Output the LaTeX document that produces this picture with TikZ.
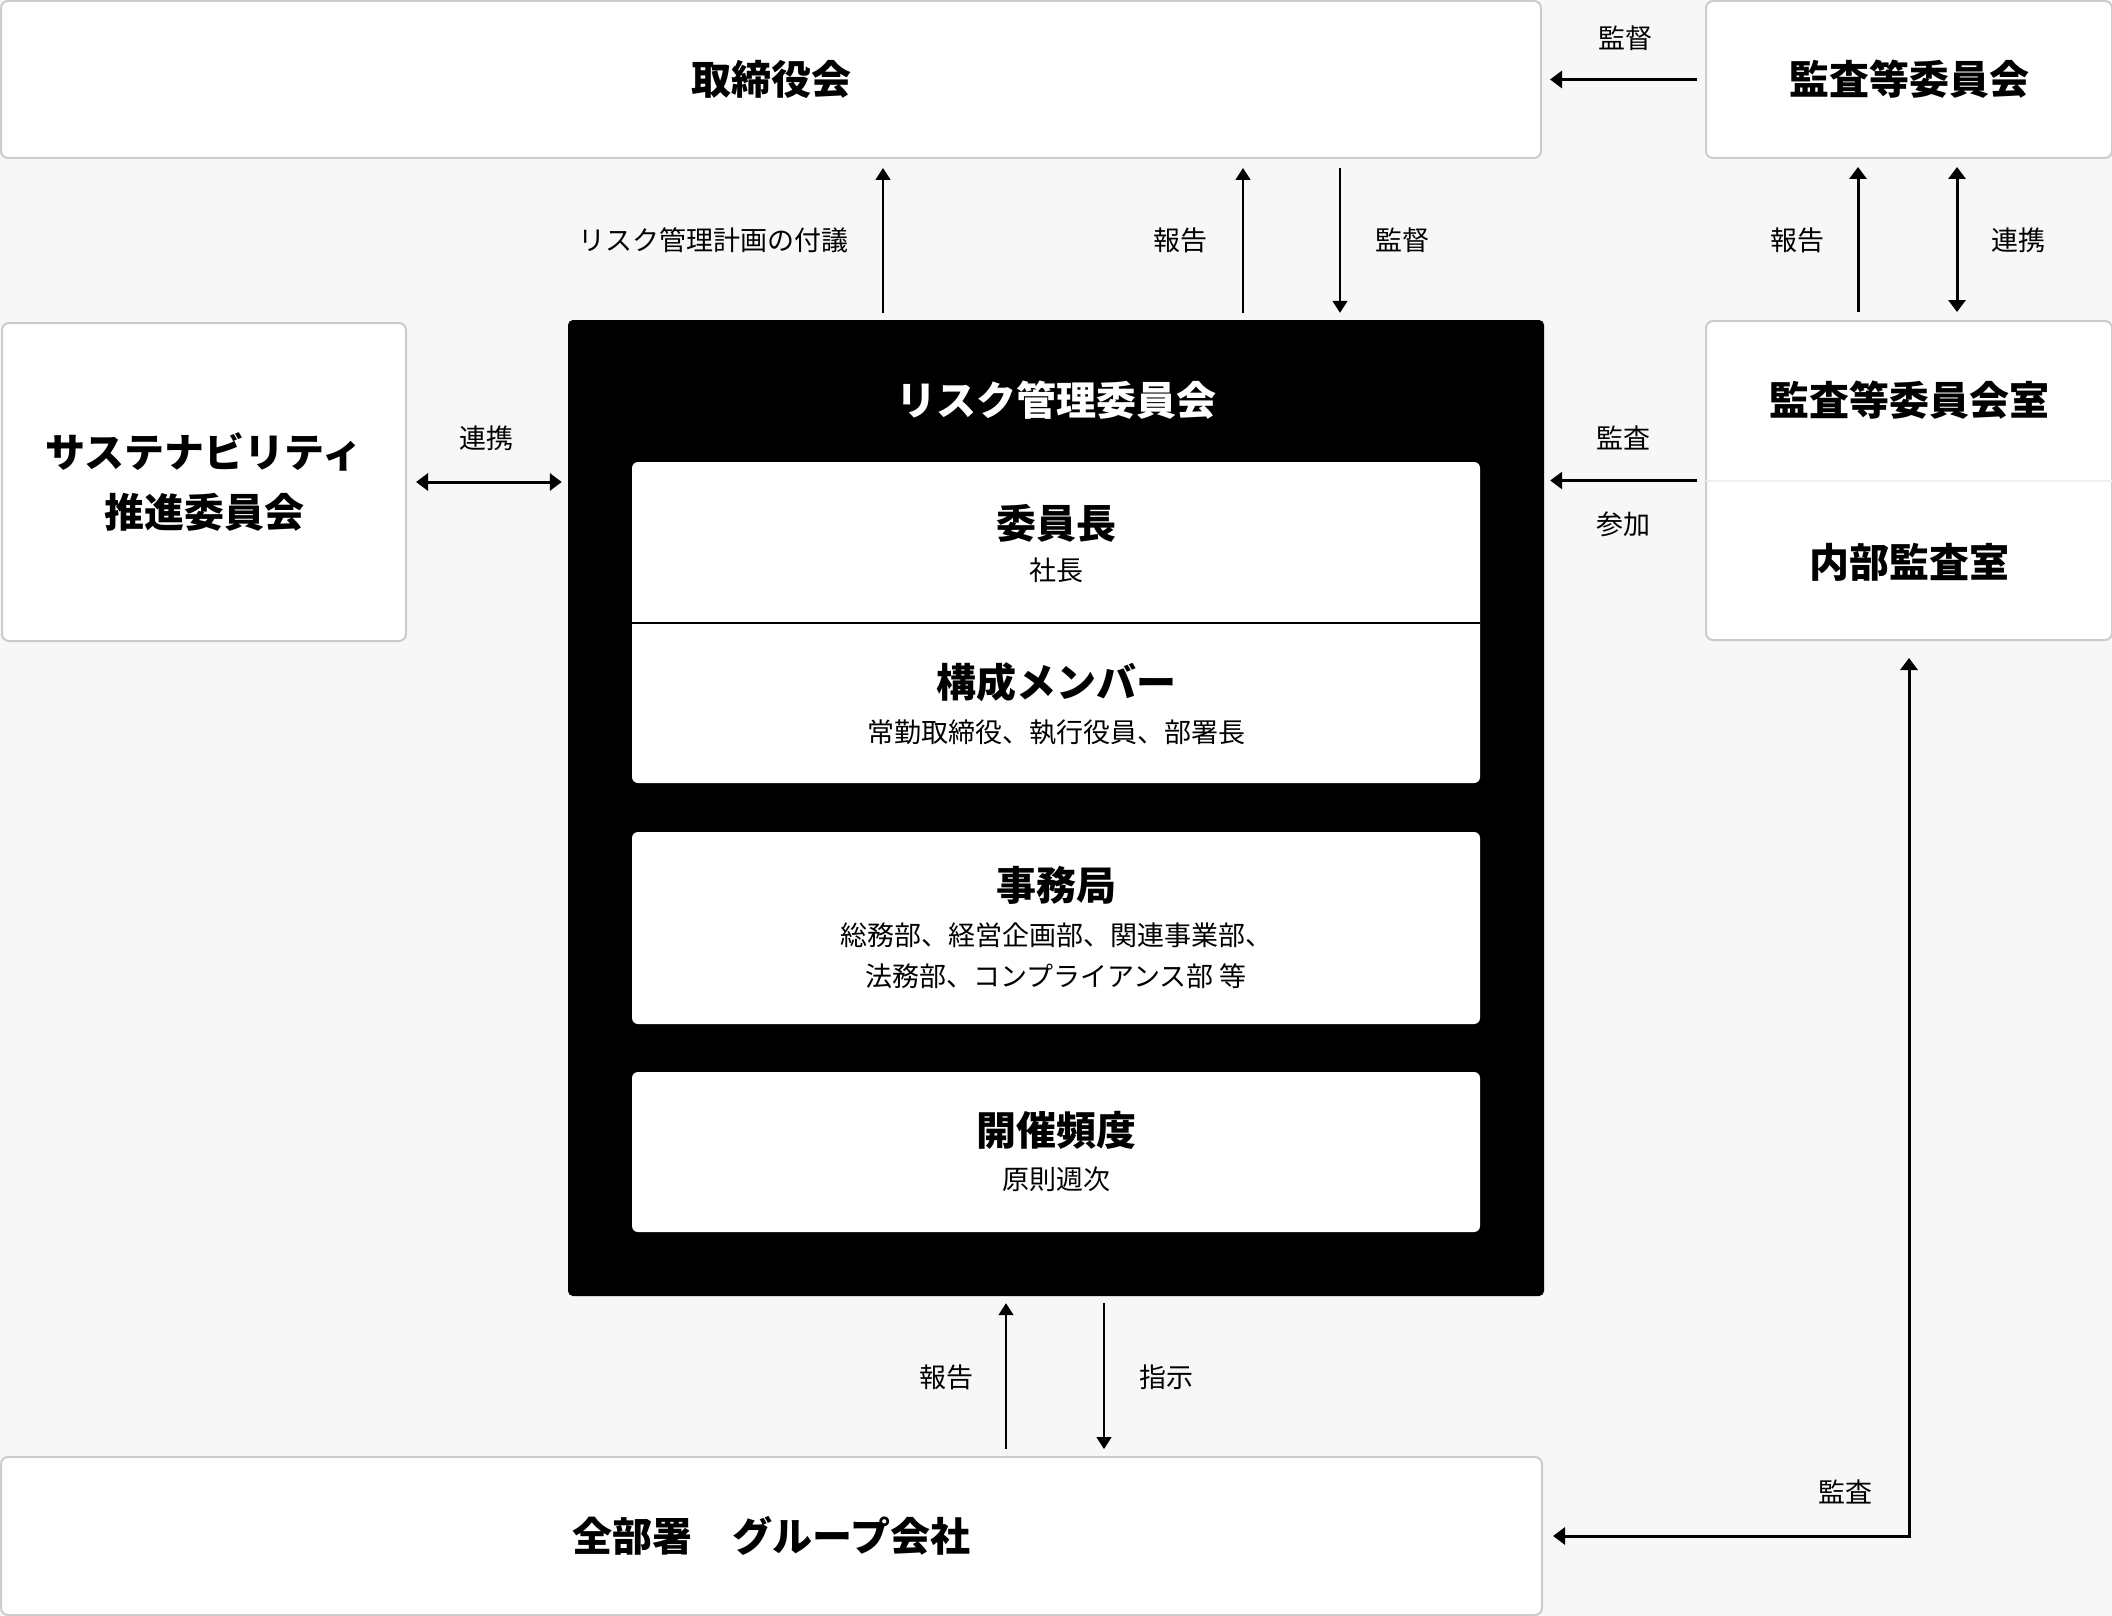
\documentclass[tikz,border=0pt]{standalone}
\usepackage{fontspec}
\setmainfont{Noto Sans CJK JP}
\usetikzlibrary{arrows.meta,calc}
\definecolor{bgc}{HTML}{F8F7F7}
\definecolor{bordc}{HTML}{CCCCCC}
\definecolor{divc}{HTML}{F0F0F0}
\tikzset{
  wbox/.style={draw=bordc, line width=2pt, fill=white, rounded corners=7pt, inner sep=0pt},
  ibox/.style={fill=white, rounded corners=6pt, inner sep=0pt, minimum width=848pt},
  head/.style={font=\fontsize{40}{60}\selectfont\bfseries, align=center, inner sep=0pt},
  sub/.style={font=\fontsize{27}{41}\selectfont, align=center, inner sep=0pt},
  lab/.style={font=\fontsize{27}{32}\selectfont, inner sep=0pt},
  thinarr/.style={line width=1.6pt, -{Triangle[length=12pt,width=15pt]}},
  thickarr/.style={line width=3pt, -{Triangle[length=12pt,width=17pt]}},
  thickboth/.style={line width=3pt, {Triangle[length=12pt,width=17pt]}-{Triangle[length=12pt,width=17pt]}},
}
\begin{document}
\begin{tikzpicture}[x=1pt,y=-1pt]
\useasboundingbox (0,0) rectangle (2112,1616);
\fill[bgc] (0,0) rectangle (2112,1616);

% boxes
\node[wbox, minimum width=1540pt, minimum height=157pt] (board) at (771,79.5) {};
\node[head] at (board.center) {取締役会};
\node[wbox, minimum width=406pt, minimum height=157pt] (ac) at (1909,79.5) {};
\node[head] at (ac.center) {監査等委員会};
\node[wbox, minimum width=404pt, minimum height=318pt] (sus) at (204,482) {};
\node[head] at (sus.center) {サステナビリティ\\推進委員会};
\node[wbox, minimum width=406pt, minimum height=319pt] (acr) at (1909,480.5) {};
\draw[divc, line width=2pt] ([xshift=1pt]acr.west) -- ([xshift=-1pt]acr.east);
\node[head] at (1909,400) {監査等委員会室};
\node[head] at (1909,562) {内部監査室};
\node[wbox, minimum width=1541pt, minimum height=158pt] (all) at (771.5,1536) {};
\node[head] at (all.center) {全部署　グループ会社};

% risk management committee
\node[fill=black, rounded corners=5pt, minimum width=976pt, minimum height=976pt, inner sep=0pt] (rmc) at (1056,808) {};
\node[head, text=white] (rmct) at (1056,400) {リスク管理委員会};
\node[ibox, minimum height=321pt] (in1) at (1056,622.5) {};
\draw[black, line width=2pt] (in1.west |- 0,623) -- (in1.east |- 0,623);
\node[head] at (1056,523) {委員長};
\node[sub] at (1056,570) {社長};
\node[head] at (1056,682) {構成メンバー};
\node[sub] at (1056,732) {常勤取締役、執行役員、部署長};
\node[ibox, minimum height=192pt] (in2) at (1056,928) {};
\node[head] at (1056,885) {事務局};
\node[sub] at (1056,956) {総務部、経営企画部、関連事業部、\\法務部、コンプライアンス部 等};
\node[ibox, minimum height=160pt] (in3) at (1056,1152) {};
\node[head] at (1056,1130) {開催頻度};
\node[sub] at (1056,1179) {原則週次};

% coordinates for vertical connectors
\coordinate (c1) at (883,0);
\coordinate (c2) at (1243,0);
\coordinate (c3) at (1340,0);
\coordinate (c4) at (1858,0);
\coordinate (c5) at (1957,0);
\coordinate (c6) at (1006,0);
\coordinate (c7) at (1104,0);

% top connectors
\draw[thickarr] ([xshift=-8pt]ac.west) -- ([xshift=8pt]board.east);
\node[lab] at (1625,38) {監督};
\draw[thinarr] ([yshift=7pt]c1 |- rmc.north) -- ([yshift=-9pt]c1 |- board.south);
\node[lab, anchor=east] at (849,240) {リスク管理計画の付議};
\draw[thinarr] ([yshift=7pt]c2 |- rmc.north) -- ([yshift=-9pt]c2 |- board.south);
\node[lab] at (1180,240) {報告};
\draw[thinarr] ([yshift=-9pt]c3 |- board.south) -- ([yshift=7pt]c3 |- rmc.north);
\node[lab] at (1402,240) {監督};

\draw[thickarr] ([yshift=8pt]c4 |- acr.north) -- ([yshift=-8pt]c4 |- ac.south);
\node[lab] at (1797,240) {報告};
\draw[thickboth] ([yshift=8pt]c5 |- acr.north) -- ([yshift=-8pt]c5 |- ac.south);
\node[lab] at (2018,240) {連携};

% side connectors
\draw[thickboth] ([xshift=9pt]sus.east) -- ([xshift=-6pt]rmc.west |- sus.east);
\node[lab] at (486,438) {連携};
\draw[thickarr] ([xshift=-8pt]acr.west) -- ([xshift=6pt]rmc.east |- acr.west);
\node[lab] at (1623,438) {監査};
\node[lab] at (1623,524) {参加};

% bottom connectors
\draw[thinarr] ([yshift=7pt]c6 |- all.north) -- ([yshift=-7pt]c6 |- rmc.south);
\node[lab] at (946,1377) {報告};
\draw[thinarr] ([yshift=-7pt]c7 |- rmc.south) -- ([yshift=7pt]c7 |- all.north);
\node[lab] at (1166,1377) {指示};

\draw[line width=3pt, {Triangle[length=12pt,width=17pt]}-{Triangle[length=12pt,width=17pt]}] ([yshift=-17pt]acr.south) |- ([xshift=10pt]all.east);
\node[lab] at (1845,1492) {監査};
\end{tikzpicture}
\end{document}
